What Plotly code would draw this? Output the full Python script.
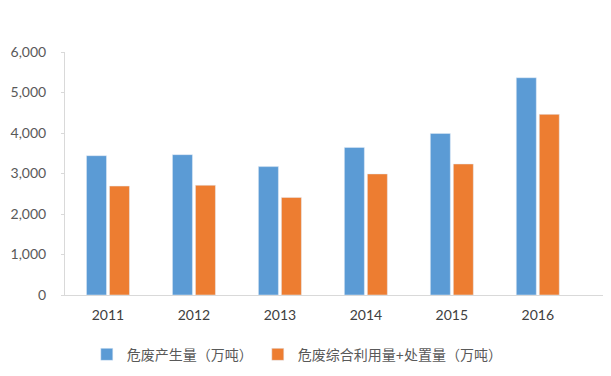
import plotly.graph_objects as go

years = ["2011", "2012", "2013", "2014", "2015", "2016"]
produced = [3440, 3465, 3170, 3645, 3990, 5365]
treated = [2690, 2710, 2410, 2990, 3235, 4460]
series_names = ["危废产生量（万吨）", "危废综合利用量+处置量（万吨）"]
colors = ["#5B9BD5", "#ED7D31"]
y_ticks = [0, 1000, 2000, 3000, 4000, 5000, 6000]

fig = go.Figure()
fig.add_trace(go.Bar(x=years, y=produced, name=series_names[0], marker_color=colors[0]))
fig.add_trace(go.Bar(x=years, y=treated, name=series_names[1], marker_color=colors[1]))

font_family = "Lato, 'Noto Sans CJK SC', sans-serif"
# page body has an 8px default margin, so the figure is sized to 603x368
fig.update_layout(
    width=603, height=368,
    margin=dict(l=57, r=1, t=44, b=81, autoexpand=False),
    paper_bgcolor="white", plot_bgcolor="white",
    barmode="group", bargap=0.465, bargroupgap=0.13,
    font=dict(family=font_family, color="#595959", size=12),
    showlegend=True,
    legend=dict(orientation="h", x=0.04, y=-0.18, xanchor="left", yanchor="top",
                font=dict(size=14, color="#595959"), itemwidth=30),
    xaxis=dict(type="category", range=[-0.5, 5.84], showline=True, linecolor="#D9D9D9",
               linewidth=1, ticks="", showgrid=False, automargin=False,
               ticklabelstandoff=7, tickfont=dict(size=14, color="#404040")),
    yaxis=dict(range=[0, 6000], tickvals=y_ticks, tickformat=",d", showline=True,
               linecolor="#D9D9D9", linewidth=1, ticks="outside", ticklen=3, tickcolor="#D9D9D9",
               showgrid=False, zeroline=False, ticklabelstandoff=12, automargin=False,
               tickfont=dict(size=14, color="#595959")),
)

fig.write_html("out.html")
